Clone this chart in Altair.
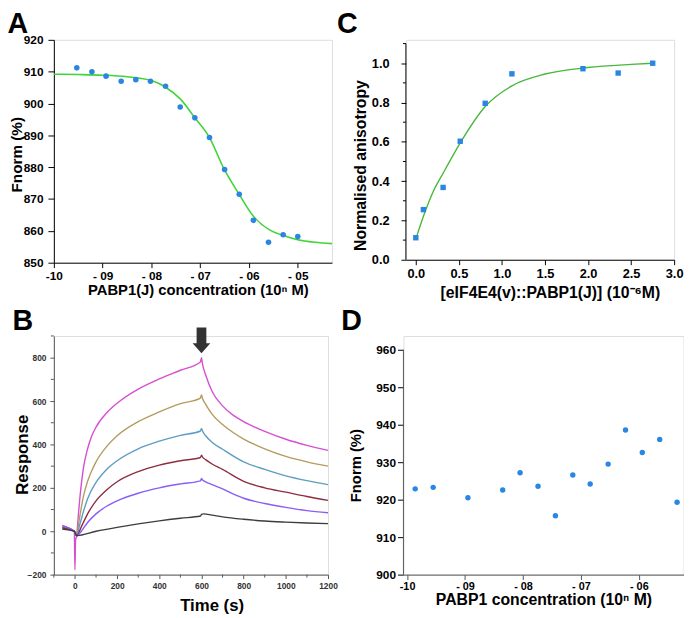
import altair as alt
import pandas as pd

FONT = "Liberation Sans"
BLUE = "#2b86e2"

# ---------------- Panel A ----------------
a_conc = [-9.53, -9.22, -8.93, -8.62, -8.32, -8.02, -7.71, -7.41, -7.11, -6.81, -6.50, -6.20, -5.91, -5.60, -5.30, -5.00]
a_fnorm = [911.2, 910.0, 908.6, 907.0, 907.5, 907.0, 905.4, 898.9, 895.5, 889.3, 879.3, 871.5, 863.3, 856.4, 858.8, 858.2]
a_fit_conc = [-10.0, -9.5, -9.0, -8.5, -8.0, -7.71, -7.4, -7.11, -6.81, -6.51, -6.21, -5.92, -5.58, -5.31, -5.0, -4.65, -4.3]
a_fit_fnorm = [909.2, 909.1, 908.9, 908.4, 907.2, 905.1, 901.3, 895.5, 889.3, 879.4, 871.7, 864.8, 860.3, 858.6, 857.2, 856.4, 856.0]
a_xticks = [-10, -9, -8, -7, -6, -5]
a_yticks = [850, 860, 870, 880, 890, 900, 910, 920]

# ---------------- Panel C ----------------
c_conc = [0.0, 0.088, 0.317, 0.516, 0.806, 1.116, 1.941, 2.35, 2.751]
c_aniso = [0.112, 0.255, 0.368, 0.603, 0.796, 0.946, 0.972, 0.950, 1.0]
c_fit_conc = [0.0, 0.1, 0.2, 0.317, 0.516, 0.806, 1.116, 1.5, 2.0, 2.5, 2.75]
c_fit_aniso = [0.105, 0.235, 0.345, 0.44, 0.595, 0.78, 0.885, 0.945, 0.978, 0.994, 1.0]
c_xticks = [0.0, 0.5, 1.0, 1.5, 2.0, 2.5, 3.0]
c_yticks = [0.0, 0.2, 0.4, 0.6, 0.8, 1.0]
c_yminor = [0.1, 0.3, 0.5, 0.7, 0.9, 1.1]

# ---------------- Panel B ----------------
b_names = ["pink", "gold", "blue", "maroon", "violet", "gray"]
b_colors = ["#d64fd2", "#b39c5e", "#5d9dc2", "#8e2c40", "#8b5cf6", "#3d3d3d"]
pink_t = [-60, -30, -3, 0, 3, 8, 15, 25, 40, 60, 80, 100, 150, 200, 300, 400, 500, 595, 600, 605, 620, 650, 700, 750, 800, 900, 1000, 1100, 1200]
pink_r = [27, 14, 0, -178, -40, -22, 60, 170, 290, 380, 440, 480, 545, 590, 655, 702, 742, 780, 800, 770, 720, 645, 578, 535, 505, 460, 424, 396, 373]
gold_t = [-60, -3, 8, 15, 25, 40, 60, 80, 100, 150, 200, 300, 400, 500, 595, 600, 605, 620, 650, 700, 750, 800, 900, 1000, 1100, 1200]
gold_r = [22, 0, -22, 20, 80, 160, 230, 280, 320, 390, 440, 505, 550, 588, 614, 628, 612, 585, 540, 492, 455, 425, 380, 345, 320, 300]
blue_t = [-60, -3, 8, 20, 40, 60, 100, 150, 200, 300, 400, 500, 595, 600, 605, 620, 650, 700, 800, 900, 1000, 1100, 1200]
blue_r = [18, 0, -22, 20, 90, 150, 225, 285, 325, 380, 415, 442, 462, 474, 462, 440, 410, 378, 320, 285, 255, 233, 215]
maroon_t = [-60, -3, 8, 30, 60, 100, 150, 200, 300, 400, 500, 595, 600, 605, 620, 650, 700, 800, 900, 1000, 1100, 1200]
maroon_r = [15, 0, -22, 20, 80, 140, 190, 228, 275, 305, 325, 340, 350, 342, 330, 310, 285, 230, 200, 180, 160, 142]
violet_t = [-60, -3, 8, 30, 60, 100, 150, 200, 300, 400, 500, 595, 600, 605, 620, 650, 700, 750, 800, 900, 1000, 1100, 1200]
violet_r = [25, 0, -22, 0, 40, 80, 115, 140, 175, 200, 218, 232, 243, 236, 228, 215, 195, 172, 152, 128, 110, 95, 85]
gray_t = [-60, -3, 8, 100, 200, 300, 400, 500, 595, 600, 610, 650, 700, 800, 900, 1000, 1100, 1200]
gray_r = [10, 0, -20, 0, 18, 34, 48, 60, 70, 78, 80, 74, 66, 55, 47, 42, 38, 35]
b_xticks = [0, 200, 400, 600, 800, 1000, 1200]
b_yticks = [-200, 0, 200, 400, 600, 800]
b_xminor = [-100, 100, 300, 500, 700, 900, 1100]
b_yminor = [-100, 100, 300, 500, 700, 900]
b_arrow_t = [600]
b_arrow_r = [880]

# ---------------- Panel D ----------------
d_conc = [-9.86, -9.55, -8.95, -8.35, -8.05, -7.74, -7.44, -7.14, -6.84, -6.53, -6.23, -5.94, -5.64, -5.34]
d_fnorm = [922.9, 923.3, 920.5, 922.6, 927.2, 923.6, 915.7, 926.6, 924.2, 929.5, 938.6, 932.6, 936.1, 919.3]
d_xticks = [-10, -9, -8, -7, -6]
d_yticks = [900, 910, 920, 930, 940, 950, 960]


def make_axis(title, values, tick, lpad, lsize, tsize, tx, ty, fmt=None, label_expr=None,
              color="black", lcolor="black", domain=True):
    kw = dict(title=title, values=values, grid=False, domain=domain, domainColor=color,
              domainWidth=1, tickColor=color, tickWidth=1, tickSize=tick, labelPadding=lpad,
              labelFont=FONT, labelFontSize=lsize, labelFontWeight="bold", labelColor=lcolor,
              titleFont=FONT, titleFontSize=tsize, titleFontWeight="bold", titleColor="black",
              titleX=tx, titleY=ty, titleBaseline="alphabetic", titleAlign="center",
              labelFlush=False, labelOverlap=False, labelBound=False)
    if fmt is not None:
        kw["format"] = fmt
    if label_expr is not None:
        kw["labelExpr"] = label_expr
    return alt.Axis(**kw)


def letter(ch, x, y):
    return alt.Chart(pd.DataFrame({"t": [ch]})).mark_text(
        text=ch, font=FONT, fontSize=29, fontWeight="bold", align="left",
        baseline="top", color="black"
    ).encode(x=alt.value(x), y=alt.value(y))


LOG_LABEL = "datum.value == -10 ? '-10' : '- 0' + abs(datum.value)"

# ---- A ----
a_xs = alt.Scale(domain=[-10, -4.3], nice=False, zero=False)
a_ys = alt.Scale(domain=[850, 920], nice=False, zero=False)
a_x = alt.X("x:Q", scale=a_xs, axis=make_axis("PABP1(J) concentration (10ⁿ M)", a_xticks, 5, 3, 12, 15, 146, 32.5, label_expr=LOG_LABEL))
a_y = alt.Y("y:Q", scale=a_ys, axis=make_axis("Fnorm (%)", a_yticks, 6, 5, 12, 15.5, -33, 116))
chart_a = alt.layer(
    alt.Chart(pd.DataFrame({"x": a_fit_conc, "y": a_fit_fnorm})).mark_line(
        color="#3fd43a", strokeWidth=1.6, interpolate="monotone").encode(x=a_x, y=a_y),
    alt.Chart(pd.DataFrame({"x": a_conc, "y": a_fnorm})).mark_circle(
        color=BLUE, size=32, opacity=1).encode(x=a_x, y=a_y),
    letter("A", -47, -30),
).properties(width=282, height=226)

# ---- C ----
c_xs = alt.Scale(domain=[-0.115, 3.0], nice=False, zero=False)
c_ys = alt.Scale(domain=[0, 1.119], nice=False, zero=False)
c_x = alt.X("x:Q", scale=c_xs, axis=make_axis("[eIF4E4(v)::PABP1(J)] (10⁻⁶M)", c_xticks, 5, 3, 13, 16, 146, 38, fmt=".1f"))
c_y = alt.Y("y:Q", scale=c_ys, axis=make_axis("Normalised anisotropy", c_yticks, 5, 12, 13, 16, -41, 127, fmt=".1f", domain=False))
chart_c = alt.layer(
    alt.Chart(pd.DataFrame({"x": c_fit_conc, "y": c_fit_aniso})).mark_line(
        color="#46b83a", strokeWidth=1.4, interpolate="monotone").encode(x=c_x, y=c_y),
    alt.Chart(pd.DataFrame({"x": c_conc, "y": c_aniso})).mark_point(
        shape="square", filled=True, color=BLUE, size=30, opacity=1).encode(x=c_x, y=c_y),
    alt.Chart(pd.DataFrame({"y": [0.0], "y2": [1.1]})).mark_rule(color="black", strokeWidth=1).encode(
        x=alt.value(0), y=c_y, y2="y2:Q"),
    alt.Chart(pd.DataFrame({"y": c_yminor})).mark_rule(color="black", strokeWidth=1).encode(
        x=alt.value(0), x2=alt.value(-3), y=c_y),
    letter("C", -70, -30),
).properties(width=272, height=223)

# ---- B ----
rows = []
for name, ts, rs in zip(b_names, [pink_t, gold_t, blue_t, maroon_t, violet_t, gray_t],
                        [pink_r, gold_r, blue_r, maroon_r, violet_r, gray_r]):
    for i, (t, r) in enumerate(zip(ts, rs)):
        rows.append({"s": name, "i": i, "x": t, "y": r})
b_df = pd.DataFrame(rows)
b_xs = alt.Scale(domain=[-100, 1200], nice=False, zero=False)
b_ys = alt.Scale(domain=[-200, 900], nice=False, zero=False)
b_x = alt.X("x:Q", scale=b_xs, axis=make_axis("Time (s)", b_xticks, 4, 3, 8.5, 17, 160, 36, fmt="d", color="#555", lcolor="#333"))
b_y = alt.Y("y:Q", scale=b_ys, axis=make_axis("Response", b_yticks, 4, 4, 8.5, 17, -26.5, 120, fmt="d", color="#555", lcolor="#333"))
arrow_path = "M-0.38,-1 L0.38,-1 L0.38,0.23 L0.69,0.23 L0,1 L-0.69,0.23 L-0.38,0.23 Z"
chart_b = alt.layer(
    alt.Chart(b_df).mark_line(strokeWidth=1.4, interpolate="monotone").encode(
        x=b_x, y=b_y,
        color=alt.Color("s:N", scale=alt.Scale(domain=b_names, range=b_colors), legend=None),
        order="i:Q"),
    alt.Chart(pd.DataFrame({"x": b_xminor})).mark_rule(color="#555", strokeWidth=1).encode(
        x=b_x, y=alt.value(242), y2=alt.value(245)),
    alt.Chart(pd.DataFrame({"y": b_yminor})).mark_rule(color="#555", strokeWidth=1).encode(
        y=b_y, x=alt.value(0), x2=alt.value(-3)),
    alt.Chart(pd.DataFrame({"x": b_arrow_t, "y": b_arrow_r})).mark_point(
        shape=arrow_path, filled=True, color="#333", size=676, opacity=1, strokeWidth=0).encode(
        x=b_x, y=b_y),
    letter("B", -42, -29.5),
).properties(width=278, height=242)

# ---- D ----
d_xs = alt.Scale(domain=[-10.063, -5.229], nice=False, zero=False)
d_ys = alt.Scale(domain=[900, 963.7], nice=False, zero=False)
d_x = alt.X("x:Q", scale=d_xs, axis=make_axis("PABP1 concentration (10ⁿ M)", d_xticks, 5, 1, 11, 16, 142, 30, label_expr=LOG_LABEL, color="#555"))
d_y = alt.Y("y:Q", scale=d_ys, axis=make_axis("Fnorm (%)", d_yticks, 6, 2, 12, 15, -44, 131, domain=False))
chart_d = alt.layer(
    alt.Chart(pd.DataFrame({"x": d_conc, "y": d_fnorm})).mark_circle(
        color=BLUE, size=30, opacity=1).encode(x=d_x, y=d_y),
    alt.Chart(pd.DataFrame({"y": [900.0], "y2": [960.0]})).mark_rule(color="#555", strokeWidth=1).encode(
        x=alt.value(0), y=d_y, y2="y2:Q"),
    letter("D", -63, -29.5),
).properties(width=284, height=242)

chart = alt.vconcat(
    alt.hconcat(chart_a, chart_c, spacing=0),
    alt.hconcat(chart_b, chart_d, spacing=2.5),
    spacing=5.3,
).properties(
    padding={"left": -1.5, "top": -3, "right": 0, "bottom": 0}
).configure_view(stroke=None).configure(background="white")

chart.save("out.html", embed_options={"renderer": "svg", "actions": False})
